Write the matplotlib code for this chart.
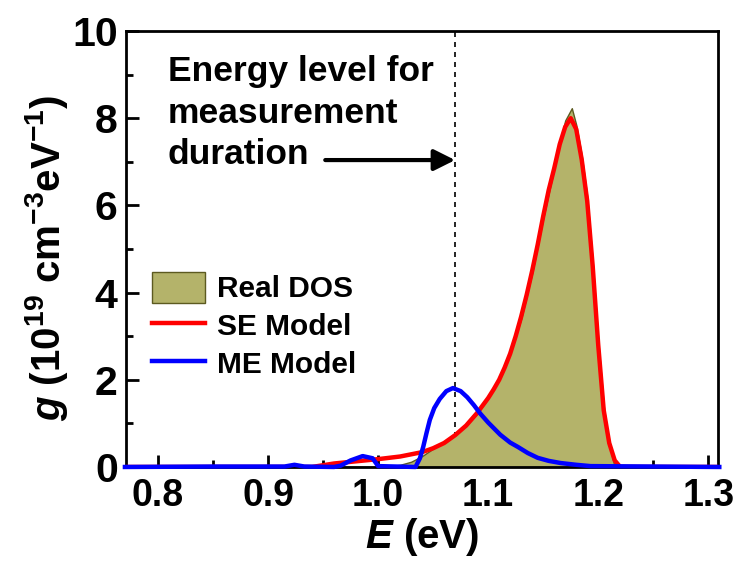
import matplotlib.pyplot as plt
import numpy as np
from matplotlib.patches import Patch
from matplotlib.lines import Line2D

plt.rcParams['font.family'] = ['Liberation Sans', 'DejaVu Sans']
plt.rcParams['font.weight'] = 'bold'
plt.rcParams['mathtext.fontset'] = 'custom'
plt.rcParams['mathtext.rm'] = 'Liberation Sans:bold'
plt.rcParams['mathtext.it'] = 'Liberation Sans:bold:italic'
plt.rcParams['mathtext.bf'] = 'Liberation Sans:bold'

# Real DOS (filled)
e_real = [0.77, 1.00, 1.01, 1.02, 1.03, 1.04, 1.05, 1.06, 1.07, 1.08, 1.09, 1.10, 1.11,
          1.12, 1.13, 1.14, 1.15, 1.16, 1.165, 1.17, 1.176, 1.18, 1.185, 1.19, 1.195,
          1.20, 1.205, 1.21, 1.215, 1.31]
g_real = [0.0, 0.0, 0.02, 0.05, 0.12, 0.25, 0.42, 0.57, 0.74, 0.95, 1.22, 1.58, 2.0,
          2.6, 3.4, 4.45, 5.7, 6.85, 7.45, 7.95, 8.23, 7.85, 7.15, 6.2, 4.7,
          2.9, 1.4, 0.5, 0.0, 0.0]

# SE model
e_se = [0.77, 0.94, 0.96, 0.98, 1.00, 1.02, 1.04, 1.05, 1.06, 1.07, 1.08, 1.09, 1.10,
        1.105, 1.11, 1.115, 1.12, 1.125, 1.13, 1.135, 1.14, 1.145, 1.15, 1.155, 1.16,
        1.165, 1.17, 1.175, 1.18, 1.185, 1.19, 1.195, 1.20, 1.205, 1.21, 1.215, 1.22,
        1.31]
g_se = [0.0, 0.0, 0.08, 0.13, 0.18, 0.24, 0.34, 0.43, 0.55, 0.73, 0.95, 1.24, 1.58,
        1.78, 2.0, 2.28, 2.6, 3.0, 3.45, 3.95, 4.5, 5.1, 5.75, 6.35, 6.85,
        7.4, 7.8, 8.0, 7.75, 7.05, 6.1, 4.6, 2.8, 1.3, 0.55, 0.15, 0.0,
        0.0]

# ME model
e_me = [0.77, 0.85, 0.915, 0.924, 0.933, 0.96, 0.966, 0.975, 0.986, 0.995, 1.0, 1.034,
        1.038, 1.041, 1.044, 1.047, 1.051, 1.056, 1.062, 1.068, 1.075, 1.081, 1.087,
        1.093, 1.10, 1.111, 1.12, 1.127, 1.136, 1.145, 1.155, 1.166, 1.18, 1.193, 1.31]
g_me = [0.0, 0.01, 0.01, 0.05, 0.01, 0.0, 0.03, 0.15, 0.25, 0.2, 0.02, 0.0,
        0.2, 0.46, 0.78, 1.08, 1.35, 1.56, 1.74, 1.81, 1.74, 1.6, 1.42,
        1.22, 1.02, 0.74, 0.56, 0.46, 0.32, 0.21, 0.14, 0.09, 0.05, 0.02, 0.0]

e_level = 1.07

fig = plt.figure(figsize=(7.56, 5.61), dpi=100)
ax = fig.add_axes([0.1667, 0.1676, 0.7833, 0.7771])

ax.fill_between(e_real, g_real, 0, facecolor='#b4b36a', edgecolor='#5c5a20',
                linewidth=1.0, zorder=2)
ax.plot(e_se, g_se, color='red', linewidth=3.2, zorder=3)
ax.plot(e_me, g_me, color='blue', linewidth=3.2, zorder=4, clip_on=False)
ax.axvline(e_level, color='black', linewidth=1.2, linestyle=(0, (3, 3)), zorder=1)

ax.text(0.809, 9.45, 'Energy level for\nmeasurement\nduration', fontsize=25.5,
        fontweight='bold', ha='left', va='top', linespacing=1.33)
ax.annotate('', xy=(e_level, 7.04), xytext=(0.952, 7.04),
            arrowprops=dict(arrowstyle='-|>', color='black', lw=3,
                            mutation_scale=32, shrinkA=0, shrinkB=0))

ax.set_xlim(0.771, 1.309)
ax.set_ylim(0, 10)
ax.set_xticks(np.arange(0.8, 1.31, 0.1))
ax.set_xticks(np.arange(0.85, 1.31, 0.1), minor=True)
ax.set_yticks(np.arange(0, 11, 2))
ax.set_yticks(np.arange(1, 10, 2), minor=True)
ax.set_xticklabels(['0.8', '0.9', '1.0', '1.1', '1.2', '1.3'])
ax.tick_params(which='both', direction='in', width=2)
ax.tick_params(axis='x', labelsize=27, pad=8)
ax.tick_params(axis='y', labelsize=29.5, pad=6)
ax.tick_params(which='major', length=9)
ax.tick_params(which='minor', length=5)
for spine in ax.spines.values():
    spine.set_linewidth(2)

ax.set_xlabel(r'$\mathit{E}$ (eV)', fontsize=29, fontweight='bold')
ax.set_ylabel(r'$\mathit{g}$ (10$^{19}$ cm$^{-3}$eV$^{-1}$)', fontsize=29,
              fontweight='bold')
ax.xaxis.set_label_coords(0.5, -0.112)
ax.yaxis.set_label_coords(-0.095, 0.48)

handles = [Patch(facecolor='#b4b36a', edgecolor='#5c5a20', linewidth=1),
           Line2D([0], [0], color='red', linewidth=3.2),
           Line2D([0], [0], color='blue', linewidth=3.2)]
ax.legend(handles, ['Real DOS', 'SE Model', 'ME Model'], loc='upper left',
          bbox_to_anchor=(0.008, 0.495), frameon=False, fontsize=21.5,
          handlelength=1.8, handleheight=1.2, handletextpad=0.4,
          labelspacing=0.22, borderpad=0.2)

fig.savefig('out.png', dpi=100)
